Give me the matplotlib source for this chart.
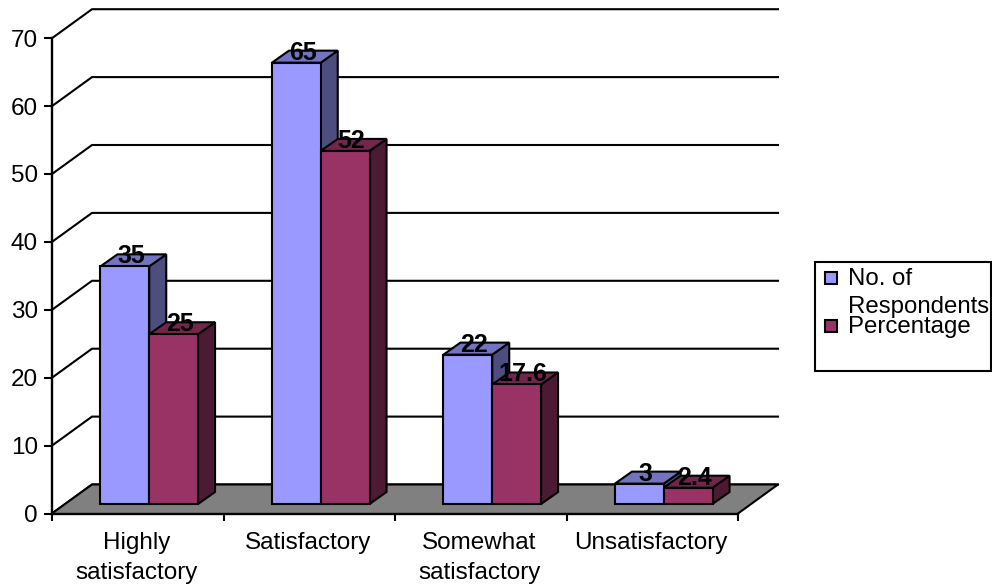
import matplotlib
matplotlib.use("Agg")
import matplotlib.pyplot as plt
from matplotlib.patches import Polygon, Rectangle

plt.rcParams["font.family"] = ["Liberation Sans", "DejaVu Sans"]

categories = ["Highly\nsatisfactory", "Satisfactory", "Somewhat\nsatisfactory", "Unsatisfactory"]
respondents = [35, 65, 22, 3]
percentage = [25, 52, 17.6, 2.4]
series_names = ["No. of\nRespondents", "Percentage"]
value_ticks = [0, 10, 20, 30, 40, 50, 60, 70]

FACE = ["#9999FF", "#993366"]
TOP = ["#7373BF", "#73264D"]
SIDE = ["#4D4D80", "#4D1A33"]
FLOOR = "#808080"

W, H = 992, 586
X0, Y0 = 52.0, 513.5      # pixel position of the axes origin
PX_X, PX_Y = 171.5, 6.79  # pixels per category, pixels per value unit

fig = plt.figure(figsize=(W / 100, H / 100), dpi=100, facecolor="white")
ax = fig.add_axes([0, 0, 1, 1])
ax.set_xlim(-X0 / PX_X, (W - X0) / PX_X)
ax.set_ylim((Y0 - H) / PX_Y, Y0 / PX_Y)
ax.patch.set_visible(False)


def dx(px):
    return px / PX_X


def dy(px):
    return px / PX_Y


LW = 1.5
n = len(categories)

# Chart depth: back wall and floor are shifted from the front plane
wall_dx, wall_dy = dx(40), dy(29)
for v in value_ticks:
    ax.plot([0, wall_dx, n + wall_dx], [v, v + wall_dy, v + wall_dy],
            color="black", lw=LW, zorder=1, solid_joinstyle="miter")
ax.add_patch(Polygon([(0, 0), (wall_dx, wall_dy), (n + wall_dx, wall_dy), (n, 0)],
                     closed=True, facecolor=FLOOR, edgecolor="none", zorder=2))
ax.plot([0, wall_dx, n + wall_dx, n], [0, wall_dy, wall_dy, 0],
        color="black", lw=LW, zorder=2.5)

# 3D-style columns: side and top faces first, then the front face
bar_w = dx(48.8)
bar_dx, bar_dy = dx(17), dy(12)
base_x, base_y = dx(11.5), dy(9.5)
for s, values in enumerate([respondents, percentage]):
    for i, v in enumerate(values):
        left = i + 0.5 + base_x + (s - 1) * bar_w
        right = left + bar_w
        bottom = base_y
        top = base_y + v
        z = 3 + s + i * 2
        ax.add_patch(Polygon([(right, bottom), (right + bar_dx, bottom + bar_dy),
                              (right + bar_dx, top + bar_dy), (right, top)],
                             closed=True, facecolor=SIDE[s], edgecolor="black", lw=LW, zorder=z))
        ax.add_patch(Polygon([(left, top), (left + bar_dx, top + bar_dy),
                              (right + bar_dx, top + bar_dy), (right, top)],
                             closed=True, facecolor=TOP[s], edgecolor="black", lw=LW, zorder=z))
        ax.add_patch(Rectangle((left, bottom), bar_w, v, facecolor=FACE[s],
                               edgecolor="black", lw=LW, zorder=z + 0.1))
        ax.text((left + right) / 2 + dx(6.5), top + dy(10), f"{v:g}",
                ha="center", va="center", fontsize=18, fontweight="bold",
                color="black", zorder=20)

# Value and category axes run through the front plane
for side in ["top", "right"]:
    ax.spines[side].set_visible(False)
ax.spines["left"].set_position(("data", 0))
ax.spines["bottom"].set_position(("data", 0))
ax.spines["left"].set_bounds(0, 70)
ax.spines["bottom"].set_bounds(0, n)
for side in ["left", "bottom"]:
    ax.spines[side].set_linewidth(LW + 0.2)
    ax.spines[side].set_zorder(15)

ax.set_yticks(value_ticks)
ax.tick_params(axis="y", length=6, width=LW, labelsize=17.5, pad=4, zorder=15)
ax.set_xticks(range(n + 1))
ax.set_xticklabels([])
ax.tick_params(axis="x", which="major", length=5, width=LW, zorder=15)
ax.set_xticks([i + 0.5 - dx(1.5) for i in range(n)], labels=categories, minor=True)
ax.tick_params(axis="x", which="minor", length=0, labelsize=17.5, pad=13)
for label in ax.get_xticklabels(minor=True):
    label.set_linespacing(1.47)

# Legend box, partly empty below its entries
to_fig = fig.transFigure


def fx(px):
    return px / W


def fy(px):
    return 1 - px / H


fig.add_artist(Rectangle((fx(815), fy(371)), fx(991) - fx(815), fy(262) - fy(371),
                         transform=to_fig, facecolor="white", edgecolor="black", lw=LW))
for name, color, y_box, y_text in zip(series_names, FACE, [278, 326], [279.5, 327.5]):
    fig.add_artist(Rectangle((fx(824.5), fy(y_box + 6)), fx(12.5), fy(0) - fy(12.5),
                             transform=to_fig, facecolor=color, edgecolor="black", lw=LW))
    if "\n" in name:
        first, second = name.split("\n")
        fig.text(fx(848), fy(y_text), first, fontsize=17.3, va="center", ha="left")
        fig.text(fx(848), fy(y_text + 28), second, fontsize=17.3, va="center", ha="left")
    else:
        fig.text(fx(848), fy(y_text), name, fontsize=17.3, va="center", ha="left")

fig.savefig("out.png", dpi=100, facecolor="white")
